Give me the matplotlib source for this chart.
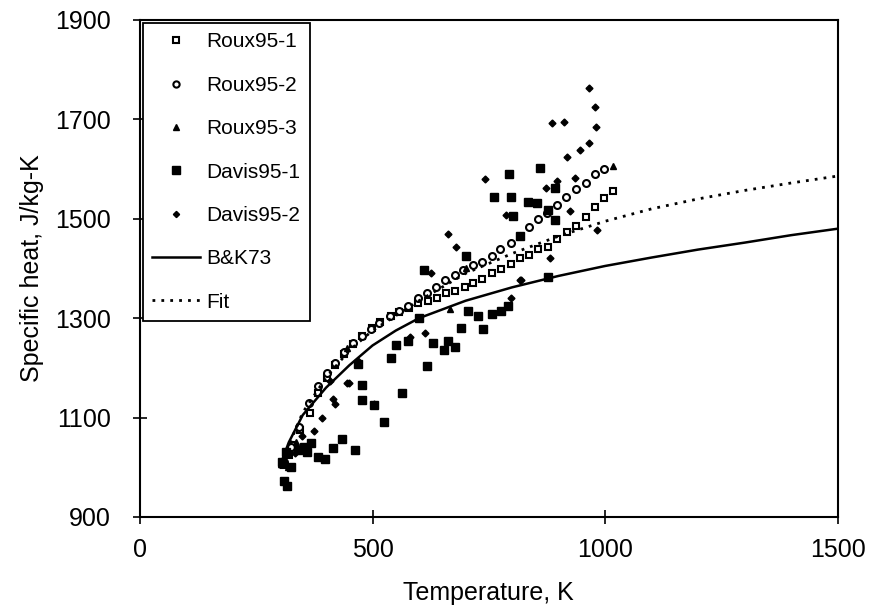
import matplotlib
matplotlib.use("Agg")
import matplotlib.pyplot as plt

plt.rcParams['font.family'] = ['Liberation Sans', 'DejaVu Sans']

# Roux95-1 (open squares)
roux1_T = [310, 320, 330, 345, 365, 383, 403, 420, 439, 459, 478, 498, 517, 539, 558, 578, 597, 619,
           638, 658, 677, 698, 716, 736, 756, 776, 797, 817, 837, 856, 877, 897, 917, 937, 958, 978, 997, 1017]
roux1_cp = [1005, 1025, 1045, 1075, 1110, 1150, 1180, 1205, 1228, 1248, 1264, 1280, 1293, 1304, 1313, 1320, 1330, 1335,
            1341, 1350, 1355, 1362, 1370, 1378, 1390, 1398, 1408, 1422, 1428, 1440, 1444, 1460, 1473, 1485, 1503, 1523, 1541, 1555]

# Roux95-2 (open circles)
roux2_T = [310, 325, 343, 364, 382, 403, 420, 439, 457, 478, 496, 515, 537, 558, 576, 597, 617, 637, 655,
           677, 694, 716, 736, 756, 775, 797, 817, 837, 856, 876, 896, 915, 937, 958, 978, 997]
roux2_cp = [1010, 1040, 1080, 1130, 1164, 1190, 1210, 1232, 1249, 1265, 1279, 1291, 1305, 1315, 1325, 1340, 1350, 1362, 1376,
            1386, 1396, 1406, 1412, 1426, 1440, 1452, 1466, 1483, 1499, 1511, 1527, 1543, 1559, 1571, 1590, 1600]

# Roux95-3 (filled triangles)
roux3_T = [318, 336, 445, 666, 700, 1017]
roux3_cp = [1000, 1050, 1240, 1318, 1400, 1606]

# Davis95-1 (filled squares)
davis1_T = [310, 317, 305, 315, 325, 340, 352, 360, 367, 382, 398, 414, 435, 463, 478, 478, 504, 524, 563,
            468, 539, 550, 576, 601, 610, 617, 630, 653, 662, 677, 690, 701, 706, 727, 737, 756, 776, 792,
            761, 794, 798, 802, 817, 835, 853, 859, 878, 878, 893, 893]
davis1_cp = [973, 963, 1010, 1030, 1000, 1035, 1040, 1030, 1049, 1021, 1017, 1039, 1057, 1035, 1166, 1136, 1126, 1092, 1150,
             1208, 1219, 1245, 1255, 1301, 1396, 1204, 1249, 1235, 1255, 1241, 1281, 1426, 1315, 1305, 1279, 1309, 1315, 1325,
             1543, 1591, 1543, 1505, 1466, 1533, 1531, 1602, 1517, 1382, 1561, 1497]

# Davis95-2 (filled diamonds)
davis2_T = [334, 349, 374, 392, 409, 414, 420, 446, 450, 468, 504, 580, 612, 626, 662, 680, 742, 787,
            798, 817, 820, 874, 882, 885, 897, 912, 917, 925, 936, 947, 966, 980, 982, 965, 978]
davis2_cp = [1029, 1063, 1073, 1100, 1174, 1138, 1128, 1170, 1170, 1214, 1128, 1263, 1271, 1390, 1470, 1444, 1581, 1507,
             1341, 1376, 1376, 1561, 1422, 1692, 1575, 1694, 1624, 1515, 1583, 1638, 1652, 1684, 1477, 1763, 1725]

# B&K73 (solid curve)
bk_T = [300, 320, 350, 400, 450, 500, 550, 600, 700, 800, 900, 1000, 1100, 1200, 1300, 1400, 1500]
bk_cp = [1000, 1050, 1105, 1160, 1205, 1245, 1275, 1300, 1335, 1362, 1385, 1405, 1422, 1438, 1452, 1467, 1480]

# Fit (dotted curve)
fit_T = [300, 350, 400, 450, 500, 600, 700, 800, 900, 1000, 1100, 1200, 1300, 1400, 1500]
fit_cp = [1000, 1110, 1180, 1235, 1275, 1335, 1390, 1430, 1465, 1495, 1520, 1540, 1557, 1572, 1586]

x_ticks = [0, 500, 1000, 1500]
y_ticks = [900, 1100, 1300, 1500, 1700, 1900]

fig = plt.figure(figsize=(8.69, 6.06), dpi=100)
ax = fig.add_axes([0.161, 0.147, 0.803, 0.820])

ax.plot(roux1_T, roux1_cp, linestyle='none', marker='s', ms=5, mfc='white', mec='black', mew=1.5, label='Roux95-1')
ax.plot(roux2_T, roux2_cp, linestyle='none', marker='o', ms=5, mfc='white', mec='black', mew=1.5, label='Roux95-2')
ax.plot(roux3_T, roux3_cp, linestyle='none', marker='^', ms=5, mfc='black', mec='black', label='Roux95-3')
ax.plot(davis1_T, davis1_cp, linestyle='none', marker='s', ms=6, mfc='black', mec='black', label='Davis95-1')
ax.plot(davis2_T, davis2_cp, linestyle='none', marker='D', ms=3.5, mfc='black', mec='black', label='Davis95-2')
ax.plot(bk_T, bk_cp, color='black', lw=1.8, label='B&K73')
ax.plot(fit_T, fit_cp, color='black', lw=2, linestyle=(0, (1, 2.2)), label='Fit')

ax.set_xlim(0, 1500)
ax.set_ylim(900, 1900)
ax.set_xticks(x_ticks)
ax.set_yticks(y_ticks)
ax.tick_params(direction='inout', length=10, width=1.2, labelsize=18, color='black')
ax.tick_params(axis='y', pad=16)
ax.tick_params(axis='x', pad=10)
for s in ax.spines.values():
    s.set_linewidth(1.5)
    s.set_color('black')

ax.set_xlabel('Temperature, K', fontsize=18, labelpad=14)
ax.set_ylabel('Specific heat, J/kg-K', fontsize=18, labelpad=8)

leg = ax.legend(loc='upper left', fontsize=15, frameon=True, fancybox=False, edgecolor='black',
                borderaxespad=0.15, labelspacing=1.17, handlelength=2.3, handletextpad=0.3,
                borderpad=0.45, markerscale=0.9)
leg.get_frame().set_linewidth(1.3)
leg.get_frame().set_alpha(1)

fig.savefig('out.png', dpi=100)
